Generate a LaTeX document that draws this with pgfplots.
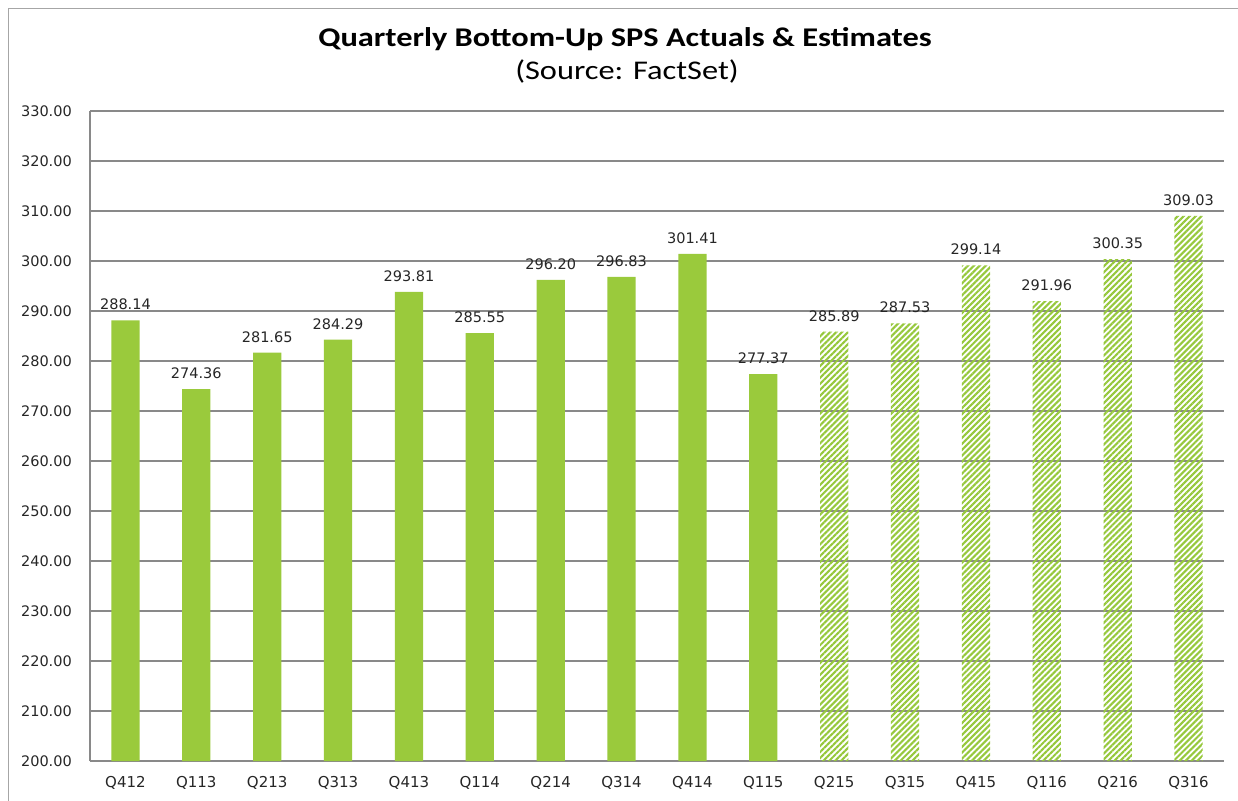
\documentclass[border=0pt]{standalone}
\usepackage{fontspec}
\setmainfont{DejaVu Sans}
\newfontfamily\titlefont[FakeStretch=1.2]{Carlito}
\usepackage{pgfplots}
\pgfplotsset{compat=1.18}
\usetikzlibrary{patterns.meta}
\definecolor{barg}{RGB}{154,202,60}
\definecolor{hatchg}{RGB}{150,200,60}
\definecolor{gridg}{RGB}{137,137,137}
\definecolor{framec}{RGB}{166,166,166}
\definecolor{txt}{RGB}{38,38,38}

\pgfplotstableread{
x y
0 288.14
1 274.36
2 281.65
3 284.29
4 293.81
5 285.55
6 296.20
7 296.83
8 301.41
9 277.37
}\actuals
\pgfplotstableread{
x y
10 285.89
11 287.53
12 299.14
13 291.96
14 300.35
15 309.03
}\estimates

\begin{document}
\begin{tikzpicture}
\begin{axis}[
  at={(90pt,39pt)}, anchor=south west,
  scale only axis, width=1134pt, height=650pt,
  xmin=-0.5, xmax=15.5, ymin=200, ymax=330,
  ytick distance=10,
  xtick={0,...,15},
  xticklabels={Q412,Q113,Q213,Q313,Q413,Q114,Q214,Q314,Q414,Q115,Q215,Q315,Q415,Q116,Q216,Q316},
  axis x line*=bottom, axis y line*=left,
  axis line style={gridg, line width=2pt},
  ymajorgrids, grid style={gridg, line width=1.6pt},
  major tick length=0pt,
  /pgf/number format/assume math mode=true,
  yticklabel={\pgfmathprintnumber[fixed,fixed zerofill,precision=2]{\tick}},
  yticklabel style={font=\fontsize{14.5}{17}\selectfont, text=txt, inner sep=0pt, anchor=east, xshift=-18pt},
  xticklabel style={font=\fontsize{15}{18}\selectfont, text=txt, inner sep=0pt, anchor=north, yshift=-15pt},
  ybar, bar width=0.4, bar shift=0pt,
  clip=false,
  nodes near coords={\pgfmathprintnumber[fixed,fixed zerofill,precision=2,assume math mode=true]{\pgfplotspointmeta}},
  every node near coord/.append style={font=\fontsize{14.5}{17}\selectfont, text=txt, inner sep=0pt, anchor=south, yshift=10pt},
]
\addplot[fill=barg, draw=none] table[x=x,y=y] {\actuals};
\addplot[draw=none, pattern={Lines[angle=45,distance=4.2pt,line width=2.1pt]}, pattern color=hatchg] table[x=x,y=y] {\estimates};
\end{axis}
\draw[framec, line width=1.5pt] (8.5pt,-20pt) -- (8.5pt,791.5pt) -- (1260pt,791.5pt);
\node[anchor=base, font=\titlefont\bfseries\fontsize{27}{30}\selectfont] at (625pt,753pt) {Quarterly Bottom-Up SPS Actuals \& Estimates};
\node[anchor=base, font=\titlefont\fontsize{27}{30}\selectfont] at (627pt,720pt) {(Source: FactSet)};
\pgfresetboundingbox
\useasboundingbox (0pt,0pt) rectangle (1238pt,800pt);
\end{tikzpicture}
\end{document}
